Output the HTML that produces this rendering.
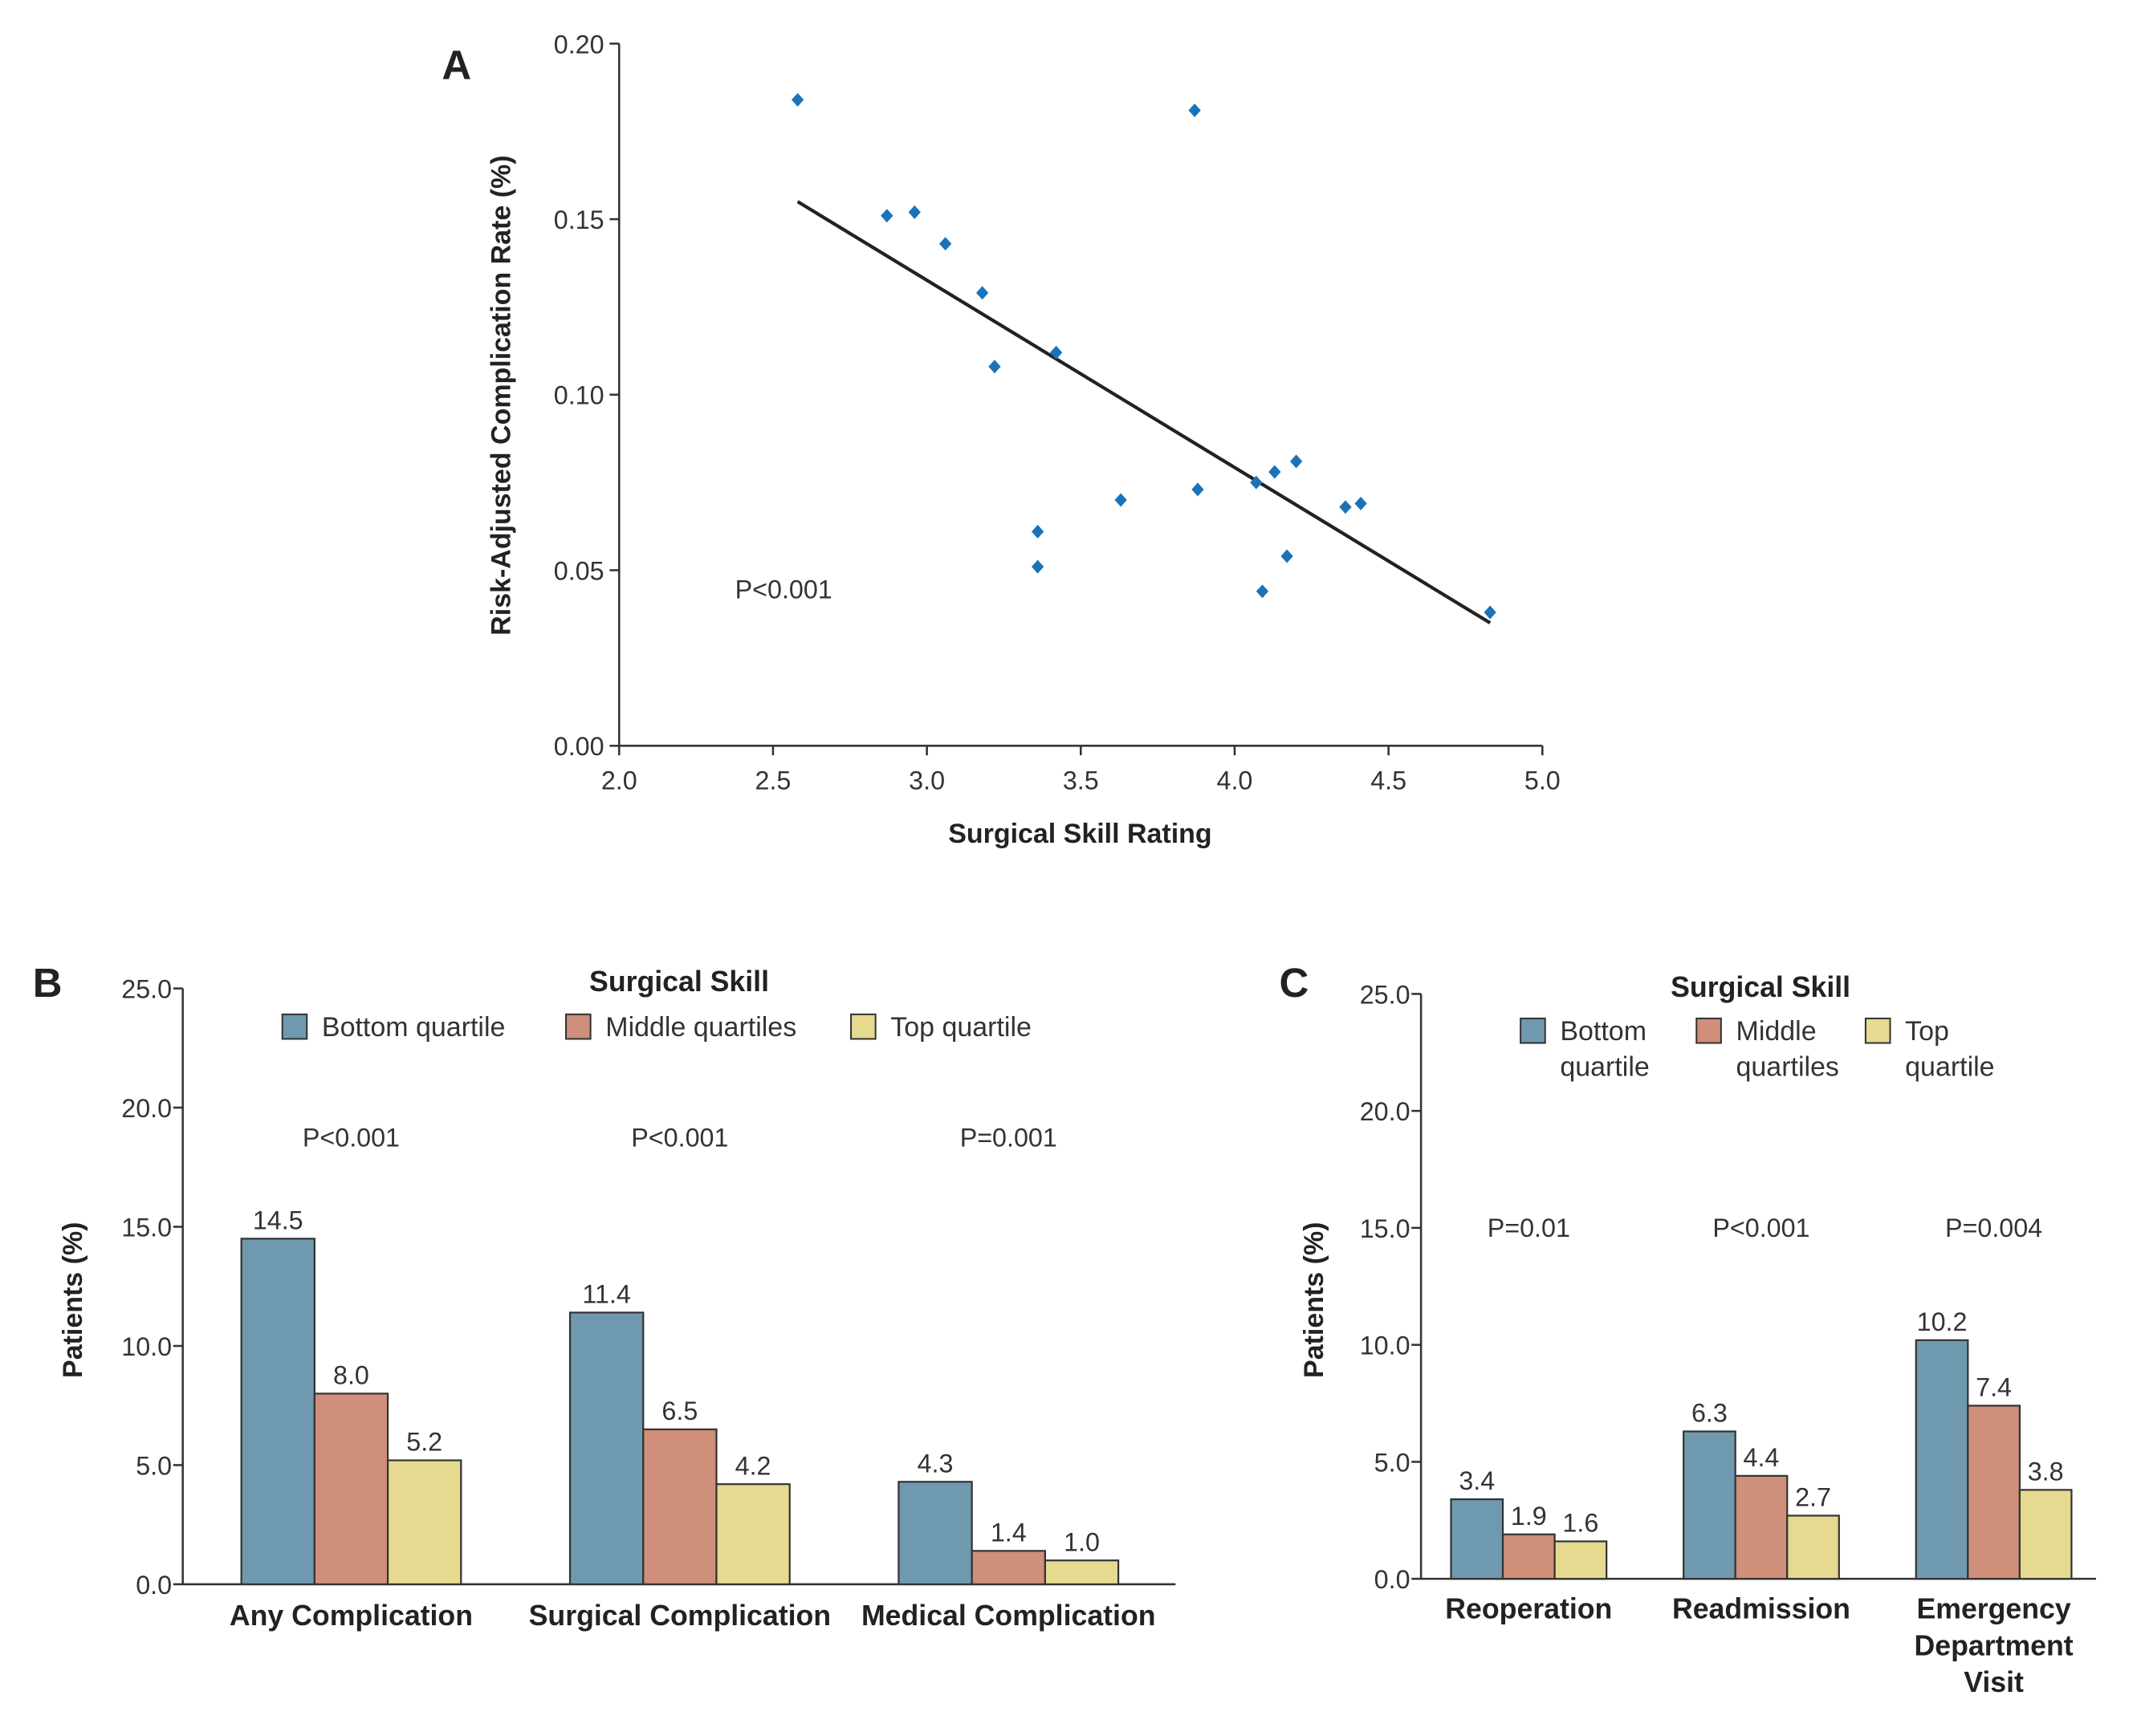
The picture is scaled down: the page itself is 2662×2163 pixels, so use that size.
<!DOCTYPE html>
<html><head><meta charset="utf-8">
<style>
html,body{margin:0;padding:0;background:#fff;}
svg{display:block;font-family:"Liberation Sans",sans-serif;}
.t{font-size:19px;fill:#333;}
.b{font-weight:bold;fill:#222;}
</style></head>
<body>
<svg id="fig" width="2662" height="2163" viewBox="0 0 1567 1273.3" xmlns="http://www.w3.org/2000/svg">
<g id="pa"></g>
<g id="pb"></g>
<g id="pc"></g>
</svg>
<script>
// Panel A data
const skill = [2.58,2.87,2.96,3.06,3.18,3.22,3.42,3.36,3.36,3.63,3.87,3.88,4.07,4.13,4.20,4.09,4.17,4.36,4.41,4.83];
const rate = [0.184,0.151,0.152,0.143,0.129,0.108,0.112,0.061,0.051,0.070,0.181,0.073,0.075,0.078,0.081,0.044,0.054,0.068,0.069,0.038];
const fitX = [2.58,4.83];
const fitY = [0.155,0.035];
const aXTicks = ["2.0","2.5","3.0","3.5","4.0","4.5","5.0"];
const aYTicks = ["0.00","0.05","0.10","0.15","0.20"];
// Panel B data
const bCats = ["Any Complication","Surgical Complication","Medical Complication"];
const bBottom = [14.5,11.4,4.3];
const bMiddle = [8.0,6.5,1.4];
const bTop = [5.2,4.2,1.0];
const bP = ["P<0.001","P<0.001","P=0.001"];
// Panel C data
const cCats = [["Reoperation"],["Readmission"],["Emergency","Department","Visit"]];
const cBottom = [3.4,6.3,10.2];
const cMiddle = [1.9,4.4,7.4];
const cTop = [1.6,2.7,3.8];
const cP = ["P=0.01","P<0.001","P=0.004"];
const yTicksBar = ["0.0","5.0","10.0","15.0","20.0","25.0"];

const NS="http://www.w3.org/2000/svg";
function mk(parent,tag,attrs,text){const e=document.createElementNS(NS,tag);for(const k in attrs)e.setAttribute(k,attrs[k]);if(text!==undefined)e.textContent=text;parent.appendChild(e);return e;}
const colors=["#6f99ae","#cf8f7a","#e5da8f"];

// ---------- Panel A ----------
(function(){
const g=document.getElementById('pa');
const X=v=>454+(v-2)*(1131-454)/3;
const Y=v=>547-v*(547-32)/0.2;
let e=mk(g,'text',{x:324,y:58,'font-size':30,class:'b'},'A');


e=mk(g,'path',{d:`M454,32 V547 H1131`,stroke:'#333','stroke-width':1.5,fill:'none'});


aXTicks.forEach(t=>{const x=X(+t);
 mk(g,'line',{x1:x,x2:x,y1:547,y2:554,stroke:'#333','stroke-width':1.5});
 e=mk(g,'text',{x:x,y:579,'text-anchor':'middle',class:'t'},t);
 
 });
aYTicks.forEach(t=>{const y=Y(+t);
 mk(g,'line',{x1:447,x2:454,y1:y,y2:y,stroke:'#333','stroke-width':1.5});
 e=mk(g,'text',{x:443,y:y+7,'text-anchor':'end',class:'t'},t);
 
 });
e=mk(g,'text',{x:792,y:618,'text-anchor':'middle','font-size':20,class:'b'},'Surgical Skill Rating');


e=mk(g,'text',{x:0,y:0,transform:'translate(374,290) rotate(-90)','text-anchor':'middle','font-size':20,class:'b'},'Risk-Adjusted Complication Rate (%)');


e=mk(g,'text',{x:539,y:439,class:'t'},'P<0.001');


e=mk(g,'line',{x1:X(fitX[0]),y1:Y(fitY[0]),x2:X(fitX[1]),y2:Y(fitY[1]),stroke:'#222','stroke-width':2.5});


skill.forEach((s,i)=>{const x=X(s),y=Y(rate[i]);
 e=mk(g,'path',{d:`M${x},${y-5} L${x+4.5},${y} L${x},${y+5} L${x-4.5},${y} Z`,fill:'#1a73b8'});
 
 });
})();

// ---------- Bar panels ----------
function barPanel(g,o){
 const Y=v=>o.y0-v*(o.y0-o.y25)/25;
 let e=mk(g,'text',{x:o.lx,y:o.ly,'font-size':30,class:'b'},o.label);
 
 
 e=mk(g,'path',{d:`M${o.ax},${o.y25} V${o.y0} H${o.xend}`,stroke:'#333','stroke-width':1.5,fill:'none'});
 
 
 yTicksBar.forEach(t=>{const y=Y(+t);
  mk(g,'line',{x1:o.ax-7,x2:o.ax,y1:y,y2:y,stroke:'#333','stroke-width':1.5});
  e=mk(g,'text',{x:o.ax-8,y:y+7,'text-anchor':'end',class:'t'},t);
  
  });
 e=mk(g,'text',{x:0,y:0,transform:`translate(${o.ytx},${(o.y0+o.y25)/2+10}) rotate(-90)`,'text-anchor':'middle','font-size':20,class:'b'},'Patients (%)');
 
 
 e=mk(g,'text',{x:o.legCx,y:o.legTy,'text-anchor':'middle','font-size':21,class:'b'},'Surgical Skill');
 
 
 o.legItems.forEach((lines,i)=>{
  e=mk(g,'rect',{x:o.legX[i],y:o.legSy,width:18,height:18,fill:colors[i],stroke:'#333','stroke-width':1.2});
  
  
  lines.forEach((ln,j)=>{
   e=mk(g,'text',{x:o.legX[i]+29,y:o.legSy+16+j*26,'font-size':20,fill:'#333'},ln);
   
   });
 });
 const series=[o.bottom,o.middle,o.top];
 o.cats.forEach((c,ci)=>{
  const cx=o.c0+ci*o.step;
  e=mk(g,'text',{x:cx,y:o.py,'text-anchor':'middle',class:'t'},o.p[ci]);
  
  
  series.forEach((s,si)=>{
   const x=cx-1.5*o.bw+si*o.bw, y=Y(s[ci]);
   e=mk(g,'rect',{x:x,y:y,width:o.bw,height:o.y0-y,fill:colors[si],stroke:'#333','stroke-width':1.3});
   
   
   e=mk(g,'text',{x:x+o.bw/2,y:y-7,'text-anchor':'middle',class:'t'},s[ci].toFixed(1));
   
   
  });
  c.forEach((ln,j)=>{
   e=mk(g,'text',{x:cx,y:o.cy+j*27,'text-anchor':'middle','font-size':21,class:'b'},ln);
   
   });
 });
}
barPanel(document.getElementById('pb'),{label:'B',lx:24,ly:731,ax:134,y0:1162,y25:725,xend:862,ytx:60,
 legCx:498,legTy:727,legSy:744,legX:[207,415,624],legItems:[["Bottom quartile"],["Middle quartiles"],["Top quartile"]],
 cats:bCats.map(c=>[c]),bottom:bBottom,middle:bMiddle,top:bTop,p:bP,c0:257.5,step:241,bw:53.7,py:841,cy:1192});
barPanel(document.getElementById('pc'),{label:'C',lx:938,ly:731,ax:1042,y0:1158,y25:729,xend:1537,ytx:970,
 legCx:1291,legTy:731,legSy:747,legX:[1115,1244,1368],legItems:[["Bottom","quartile"],["Middle","quartiles"],["Top","quartile"]],
 cats:cCats,bottom:cBottom,middle:cMiddle,top:cTop,p:cP,c0:1121,step:170.5,bw:38,py:907,cy:1187});
</script>
</body></html>
